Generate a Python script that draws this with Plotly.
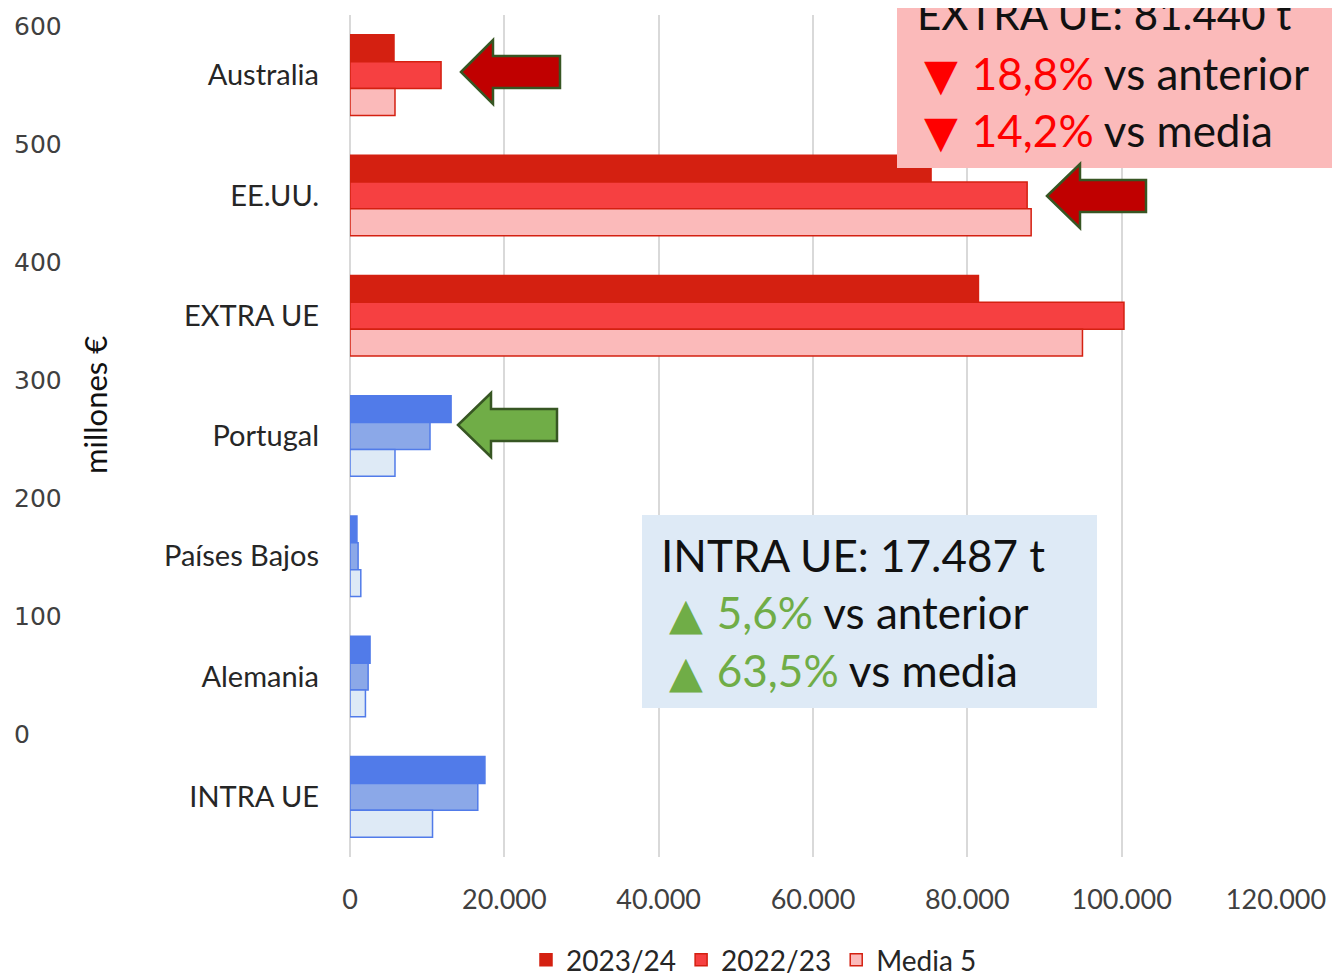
import plotly.graph_objects as go

categories = ["Australia", "EE.UU.", "EXTRA UE", "Portugal", "Países Bajos", "Alemania", "INTRA UE"]
series_names = ["2023/24", "2022/23", "Media 5"]
v_2023_24 = [5700, 75300, 81440, 13100, 900, 2600, 17487]
v_2022_23 = [11800, 87750, 100300, 10370, 1050, 2350, 16560]
v_media5 = [5830, 88270, 94920, 5830, 1400, 2000, 10695]
group = ["extra", "extra", "extra", "intra", "intra", "intra", "intra"]
x_ticks = [0, 20000, 40000, 60000, 80000, 100000, 120000]
x_ticktext = ["0", "20.000", "40.000", "60.000", "80.000", "100.000", "120.000"]
left_ticks = [0, 100, 200, 300, 400, 500, 600]

OFF = 8  # page offset of the figure inside the browser
W, H = 1340 - OFF, 976 - OFF
PLOT_TOP, PLOT_BOT = 15, 857  # in screen pixels
MT = PLOT_TOP - OFF
MB = H - (PLOT_BOT - OFF)
PH = H - MT - MB
FONT = "Lato"

def px(p):
    return (p - OFF) / W

def py(p):
    return (PLOT_BOT - p) / PH

fills = {
    "extra": ["#D42011", "#F64041", "#FBBABA"],
    "intra": ["#517BE9", "#8BA8E8", "#DEEAF6"],
}
lines = {
    "extra": ["#D42011", "#D42011", "#D42011"],
    "intra": ["#517BE9", "#517BE9", "#517BE9"],
}

fig = go.Figure()
for i, (name, vals) in enumerate(zip(series_names, [v_2023_24, v_2022_23, v_media5])):
    fig.add_trace(go.Bar(
        y=categories, x=vals, name=name, orientation="h",
        marker=dict(color=[fills[g][i] for g in group],
                    line=dict(color=[lines[g][i] for g in group], width=1.5)),
        hoverinfo="x+y",
    ))

# dummy trace on the secondary (left value) axis
fig.add_trace(go.Scatter(x=[None], y=[None], yaxis="y2", xaxis="x", showlegend=False))

def arrow(tip_x, tip_y, head_end, tail, head_h=32, shaft_h=16):
    pts = [(tip_x, tip_y), (head_end, tip_y - head_h), (head_end, tip_y - shaft_h),
           (tail, tip_y - shaft_h), (tail, tip_y + shaft_h), (head_end, tip_y + shaft_h),
           (head_end, tip_y + head_h)]
    return "M " + " L ".join(f"{px(a):.5f},{py(b):.5f}" for a, b in pts) + " Z"

shapes = [
    dict(type="rect", xref="paper", yref="paper", x0=px(897), x1=px(1350), y0=py(168), y1=py(-5),
         fillcolor="#FBBABA", line=dict(width=0), layer="above"),
    dict(type="rect", xref="paper", yref="paper", x0=px(642), x1=px(1097), y0=py(708), y1=py(515),
         fillcolor="#DEEAF6", line=dict(width=0), layer="above"),
    dict(type="path", xref="paper", yref="paper", path=arrow(461, 72, 493, 560),
         fillcolor="#C00000", line=dict(color="#375623", width=2.5), layer="above"),
    dict(type="path", xref="paper", yref="paper", path=arrow(1047, 196, 1080, 1146),
         fillcolor="#C00000", line=dict(color="#375623", width=2.5), layer="above"),
    dict(type="path", xref="paper", yref="paper", path=arrow(458, 425, 491, 557),
         fillcolor="#70AD47", line=dict(color="#375623", width=2.5), layer="above"),
]

ann_font = 44
RED = "#FF0000"
GREEN = "#70AD47"
TRI = "font-family:DejaVu Sans"
annotations = [
    dict(text="EXTRA UE: 81.440 t", x=px(915), y=py(14), font_size=42),
    dict(text=f"<span style='{TRI};color:{RED}'>▼ </span><span style='color:{RED}'>18,8%</span> vs anterior",
         x=px(922), y=py(73)),
    dict(text=f"<span style='{TRI};color:{RED}'>▼ </span><span style='color:{RED}'>14,2%</span> vs media",
         x=px(922), y=py(130)),
    dict(text="INTRA UE: 17.487 t", x=px(659), y=py(555)),
    dict(text=f"<span style='{TRI};color:{GREEN}'>▲ </span><span style='color:{GREEN}'>5,6%</span> vs anterior",
         x=px(667), y=py(613)),
    dict(text=f"<span style='{TRI};color:{GREEN}'>▲ </span><span style='color:{GREEN}'>63,5%</span> vs media",
         x=px(667), y=py(670)),
]
for a in annotations:
    size = a.pop("font_size", ann_font)
    a.update(xref="paper", yref="paper", xanchor="left", yanchor="middle", showarrow=False,
             font=dict(family=FONT, size=size, color="#111111"))
annotations.append(dict(text="millones €", x=px(95), y=py(405), xref="paper", yref="paper",
                        textangle=-90, showarrow=False, xanchor="center", yanchor="middle",
                        font=dict(family=FONT, size=31, color="#111111")))

fig.update_layout(
    width=W, height=H,
    margin=dict(l=0, r=0, t=MT, b=MB, autoexpand=False),
    paper_bgcolor="white", plot_bgcolor="white",
    barmode="group", bargap=0.33, bargroupgap=0,
    font=dict(family=FONT, size=26, color="#262626"),
    xaxis=dict(domain=[px(350), px(1276)], range=[0, 120000], tickvals=x_ticks, ticktext=x_ticktext,
               showgrid=True, gridcolor="#D9D9D9", gridwidth=2, zeroline=True, zerolinecolor="#D9D9D9",
               zerolinewidth=2, ticks="", ticklabelstandoff=24, tickfont=dict(size=27, color="#404040"),
               automargin=False),
    yaxis=dict(autorange="reversed", ticks="", showgrid=False, ticklabelstandoff=30,
               tickfont=dict(size=29, color="#262626"), automargin=False),
    yaxis2=dict(overlaying="y", anchor="free", position=px(13), side="right",
                range=[-104.3, 609.3], tickvals=left_ticks, showgrid=False, zeroline=False,
                showline=False, ticks="", tickfont=dict(family="DejaVu Sans", size=25, color="#404040"),
                automargin=False),
    legend=dict(orientation="h", x=px(754), xanchor="center", y=py(960), yanchor="middle",
                font=dict(size=28, color="#262626"), traceorder="normal", itemwidth=30),
    shapes=shapes, annotations=annotations,
)

fig.write_html("out.html")
